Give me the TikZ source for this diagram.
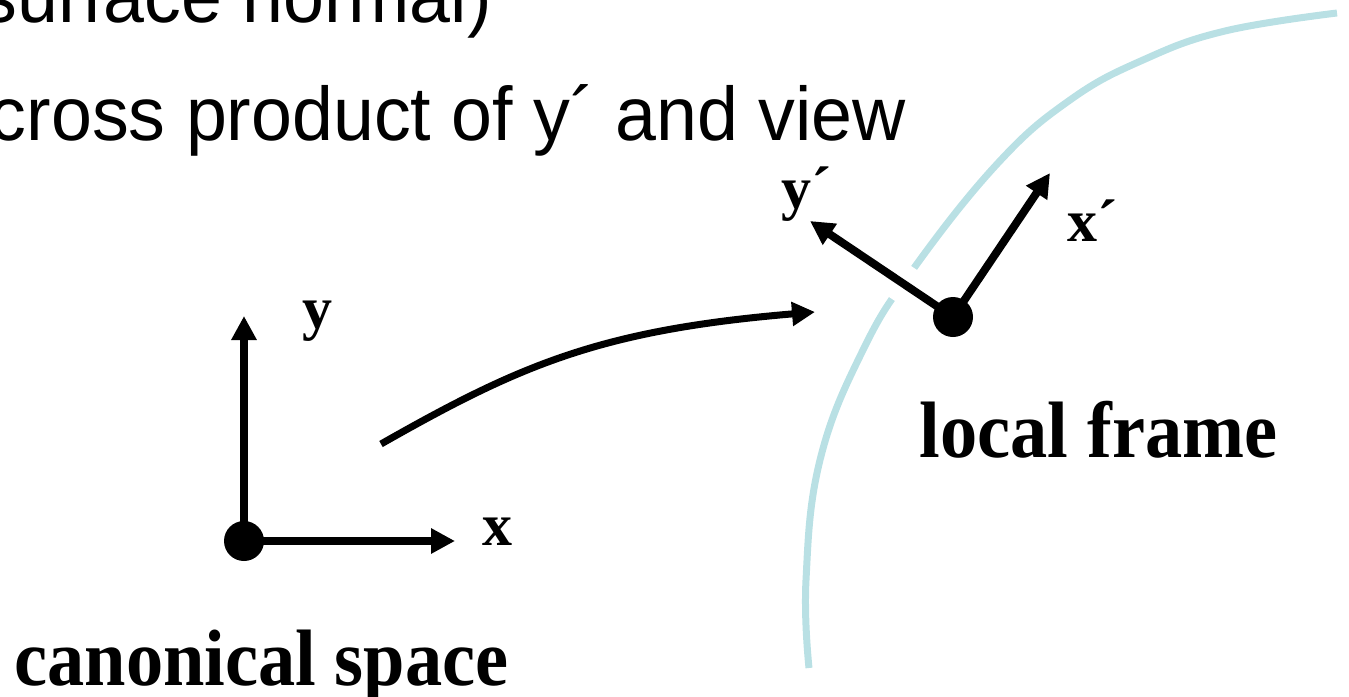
\documentclass[tikz,border=0pt]{standalone}
\usepackage{fontspec}
\setmainfont{Liberation Serif}
\newfontfamily\helv{Liberation Sans}
\usetikzlibrary{arrows.meta,calc}
\definecolor{surf}{RGB}{185,224,228}
\tikzset{
  vec/.style={line width=8pt, -{Triangle[length=24pt,width=24pt]}},
  conn/.style={line width=7pt, -{Triangle[length=23pt,width=23pt]}},
  dotnode/.style={circle, fill=black, minimum size=40pt, inner sep=0pt},
  axlabel/.style={font=\fontsize{60}{72}\selectfont\bfseries, inner sep=0pt},
  biglabel/.style={font=\fontsize{80}{96}\selectfont\bfseries, inner sep=0pt},
  toptext/.style={font=\helv\fontsize{76}{90}\selectfont, inner sep=0pt},
  surfline/.style={surf, line width=7pt},
  halo/.style={white, line width=38pt},
}
\begin{document}
\begin{tikzpicture}[x=1pt,y=-1pt]
\useasboundingbox (0,0) rectangle (1349,696);
\clip (0,0) rectangle (1349,696);
% top text lines
\node[toptext, anchor=base east] (t1) at (492,23) {\scalebox{0.968}[1]{surface normal)}};
\node[toptext, anchor=base east] (t2) at (906,140) {\scalebox{0.968}[1]{cross product of y´ and view}};
% surface curve
\draw[surfline] plot[smooth, tension=0.7] coordinates {(809,668) (806,580) (820,460) (863,350) (914,268) (998,163) (1070,100) (1143,60) (1225,31) (1337,13)};
% coordinates
\coordinate (o1) at (244,541);
\coordinate (o2) at (953,317);
\coordinate (xt) at (455,541);
\coordinate (yt) at (244,316);
\coordinate (xpt) at (1050,173);
\coordinate (ypt) at (810,221);
\coordinate (cs) at (381,444);
\coordinate (ce) at (815,312);
% canonical frame
\draw[vec] (o1) -- (xt);
\draw[vec] (o1) -- (yt);
\node[dotnode] (d1) at (o1) {};
% mapping arrow
\draw[conn] (cs) .. controls (520,365) and (600,330) .. (ce);
% local frame
\draw[halo] ($(o2)!0.2!(ypt)$) -- ($(o2)!0.5!(ypt)$);
\draw[vec] (o2) -- (ypt);
\draw[vec] (o2) -- (xpt);
\node[dotnode] (d2) at (o2) {};
% labels
\node[axlabel, anchor=base west] (lx) at (482,545) {x};
\node[axlabel, anchor=base west] (ly) at (302,328) {y};
\node[axlabel, anchor=base west] (lyp) at (781,208) {y´};
\node[axlabel, anchor=base west] (lxp) at (1067,241) {x´};
\node[biglabel, anchor=base] (lc) at (261.5,685) {\scalebox{0.93}[1]{canonical space}};
\node[biglabel, anchor=base] (ll) at (1098.5,457) {\scalebox{0.93}[1]{local frame}};
\end{tikzpicture}
\end{document}
